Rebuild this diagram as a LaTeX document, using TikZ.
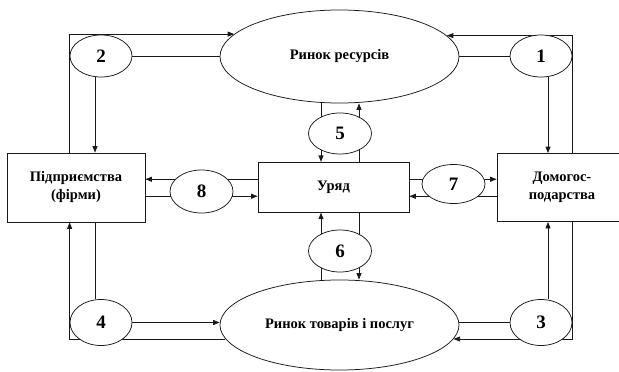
\documentclass[tikz,border=0pt]{standalone}
\usepackage{fontspec}
\setmainfont{Liberation Serif}
\usetikzlibrary{arrows.meta,calc,shapes.geometric}
\pgfdeclarelayer{bg}
\pgfsetlayers{bg,main}
\begin{document}
\begin{tikzpicture}[x=1pt,y=-1pt,
  conn/.style={draw=black!90, line width=0.75pt},
  arr/.style={conn, -{Triangle[length=6.5pt,width=5pt]}},
  box/.style={draw=black!90, line width=0.75pt, fill=white, rectangle, inner sep=0pt, align=center, font=\fontsize{14.5}{18}\selectfont\bfseries},
  market/.style={ellipse, draw=black!90, line width=0.75pt, fill=white, inner sep=0pt, font=\fontsize{14.5}{16}\selectfont\bfseries},
  num/.style={ellipse, draw=black!90, line width=0.75pt, fill=white, inner sep=0pt, font=\fontsize{19}{22}\selectfont\bfseries},
]
\useasboundingbox (0,0) rectangle (619,372);

\node[market, minimum width=239pt, minimum height=93pt] (res) at (339.5,56.5) {Ринок ресурсів};
\node[market, minimum width=239pt, minimum height=90pt] (goods) at (339.5,325) {Ринок товарів і послуг};
\node[box, minimum width=138pt, minimum height=69pt] (firm) at (76,187.5) {Підприємства\\(фірми)};
\node[box, minimum width=151pt, minimum height=50pt] (gov) at (333.5,187.25) {Уряд};
\node[box, minimum width=130pt, minimum height=68pt] (hh) at (562,187.5) {Домогос-\\подарства};

\node[num, minimum width=62pt, minimum height=42pt] (e2) at (101,56) {2};
\node[num, minimum width=62pt, minimum height=42pt] (e1) at (541,56) {1};
\node[num, minimum width=63pt, minimum height=41pt] (e5) at (340,133.5) {5};
\node[num, minimum width=63pt, minimum height=42pt] (e6) at (340,251) {6};
\node[num, minimum width=63pt, minimum height=43pt] (e8) at (201.5,191.5) {8};
\node[num, minimum width=63pt, minimum height=39pt] (e7) at (453.5,184) {7};
\node[num, minimum width=62pt, minimum height=46pt] (e4) at (101,322.5) {4};
\node[num, minimum width=62pt, minimum height=46pt] (e3) at (541,322.5) {3};

\begin{pgfonlayer}{bg}
% firms - resource market
\coordinate (e2b) at ($(e2.south)+(-6,0)$);
\draw[arr] (firm.north -| e2.west) |- (res.168.5);
\draw[conn] (e2.east) -- (e2.east -| res.west);
\draw[arr] (e2b) -- (e2b |- firm.north);
% households - resource market
\coordinate (e1b) at ($(e1.south)+(7,0)$);
\draw[arr] (hh.north -| e1.east) |- (res.11.5);
\draw[conn] (e1.west) -- (e1.west -| res.east);
\draw[arr] (e1b) -- (e1b |- hh.north);
% firms - goods market
\coordinate (e4t) at ($(e4.north)+(-6,0)$);
\draw[conn] (e4t |- firm.south) -- (e4t);
\draw[arr] (e4.east) -- (e4.east -| goods.west);
\draw[arr] (goods.187.6) -| (e4.west |- firm.south);
% households - goods market
\coordinate (e3t) at ($(e3.north)+(7,0)$);
\draw[arr] (e3t) -- (e3t |- hh.south);
\draw[conn] (e3.west) -- (e3.west -| goods.east);
\draw[arr] (hh.south -| e3.east) |- (goods.-7.6);
% government - resource market
\coordinate (c5l) at ($(e5.center)+(-19,0)$);
\coordinate (c5r) at ($(e5.center)+(19,0)$);
\draw[arr] (c5l |- res.center) -- (c5l |- gov.north);
\draw[arr] (c5r |- gov.north) -- (c5r |- res.south);
% government - goods market
\coordinate (c6l) at ($(e6.center)+(-19,0)$);
\coordinate (c6r) at ($(e6.center)+(19,0)$);
\draw[arr] (c6l |- goods.center) -- (c6l |- gov.south);
\draw[arr] (c6r |- gov.south) -- (c6r |- goods.north);
% government - firms
\coordinate (g1) at ($(gov.west)+(0,-8)$);
\coordinate (g2) at ($(gov.west)+(0,9)$);
\draw[arr] (g1) -- (g1 -| firm.east);
\draw[arr] (g2 -| firm.east) -- (g2);
% government - households
\coordinate (h1) at ($(gov.east)+(0,-8)$);
\coordinate (h2) at ($(gov.east)+(0,9)$);
\draw[arr] (h1) -- (h1 -| hh.west);
\draw[arr] (h2 -| hh.west) -- (h2);
\end{pgfonlayer}
\end{tikzpicture}
\end{document}
